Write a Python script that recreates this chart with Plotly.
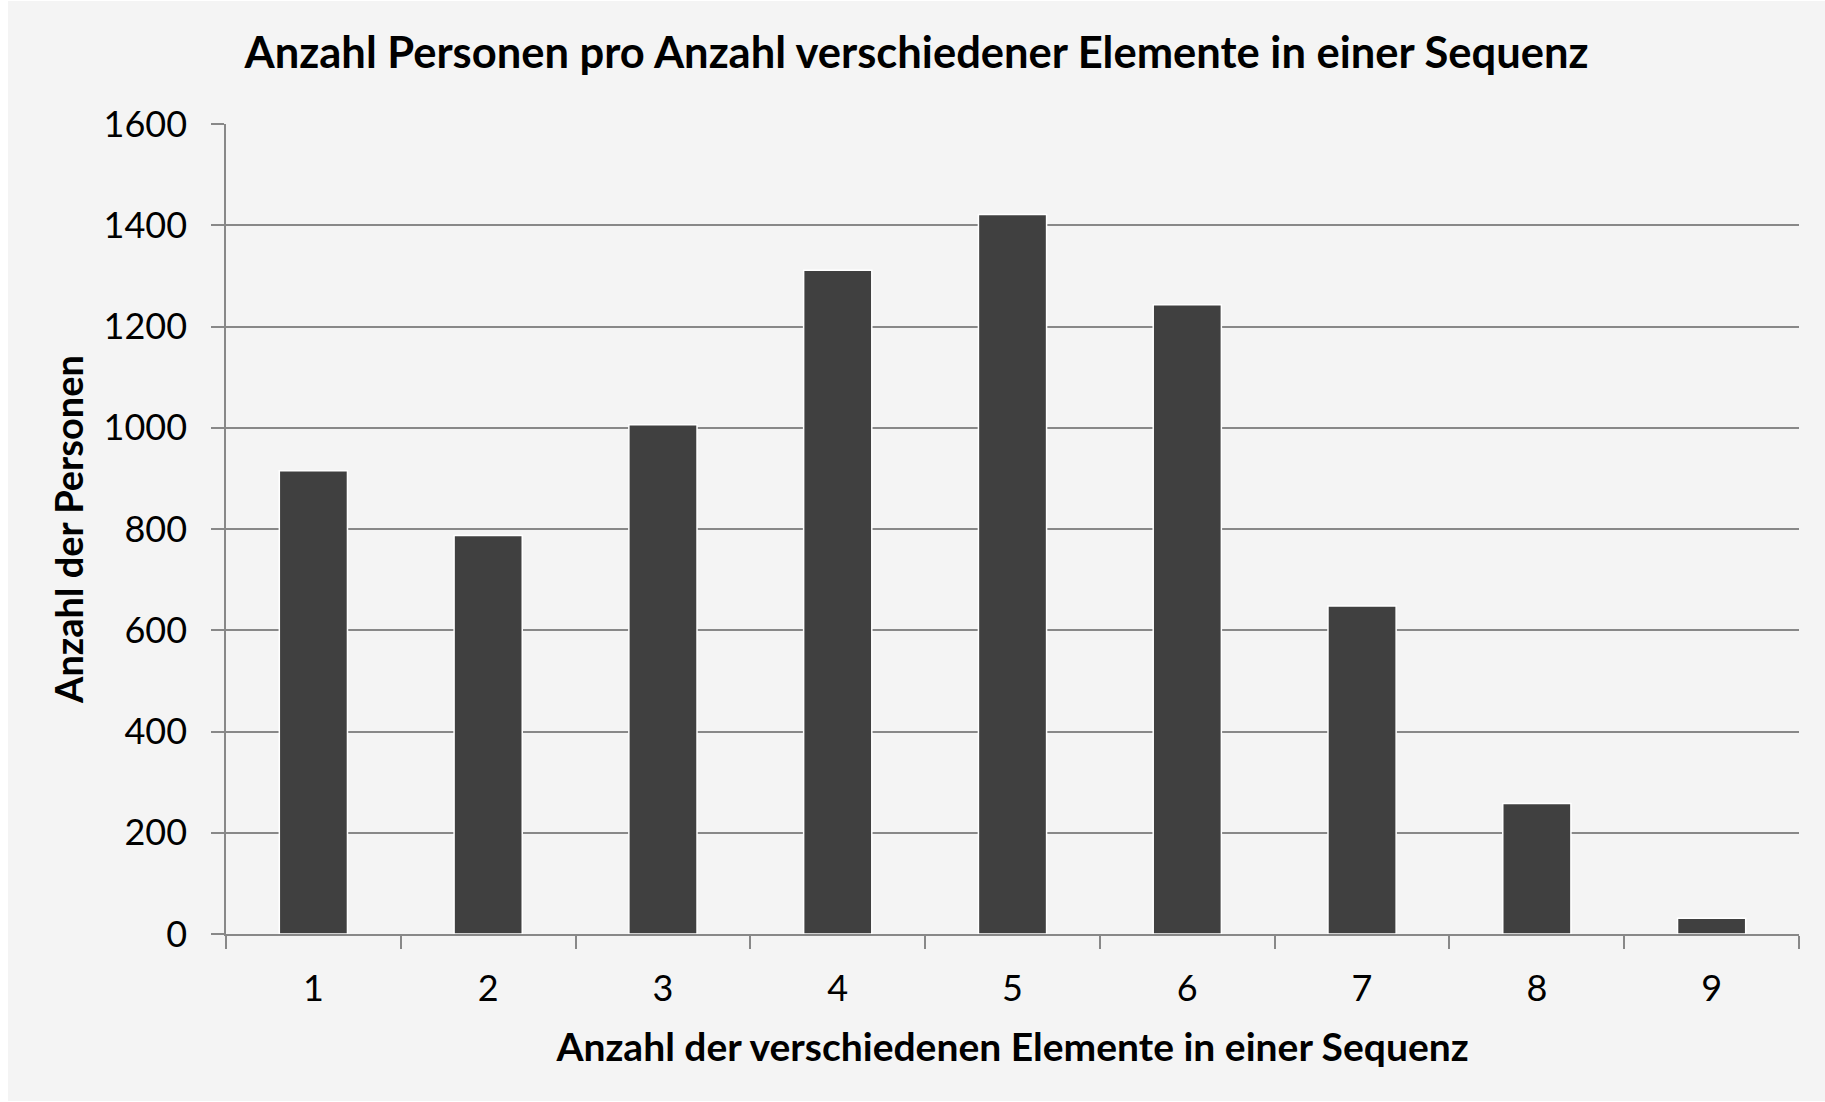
import plotly.graph_objects as go

# Anzahl verschiedener Elemente pro Sequenz und Anzahl Personen
categories = ["1", "2", "3", "4", "5", "6", "7", "8", "9"]
personen = [915, 787, 1006, 1311, 1421, 1243, 648, 258, 31]
y_ticks = [0, 200, 400, 600, 800, 1000, 1200, 1400, 1600]

grid_color = "#888888"
bg_color = "#f4f4f4"
font_family = "Lato, 'Open Sans', sans-serif"

fig = go.Figure()
fig.add_bar(
    x=categories,
    y=personen,
    marker_color="#404040",
    marker_line_color="white",
    marker_line_width=1.5,
)

fig.update_layout(
    width=1817,
    height=1100,
    margin=dict(l=218, r=26, t=123, b=167),
    paper_bgcolor=bg_color,
    plot_bgcolor=bg_color,
    bargap=0.61,
    showlegend=False,
    font=dict(family=font_family, color="#000000", size=36),
    title=dict(
        text="<b>Anzahl Personen pro Anzahl verschiedener Elemente in einer Sequenz</b>",
        x=0.5,
        xref="container",
        y=1 - 52 / 1100,
        yref="container",
        yanchor="middle",
        font=dict(size=43.5),
    ),
)

fig.update_xaxes(
    type="category",
    tickson="boundaries",
    ticks="outside",
    ticklen=13,
    tickwidth=1.5,
    tickcolor=grid_color,
    ticklabelstandoff=22,
    showline=True,
    linecolor=grid_color,
    linewidth=1.5,
    showgrid=False,
    tickfont=dict(size=36),
    title=dict(
        text="<b>Anzahl der verschiedenen Elemente in einer Sequenz</b>",
        font=dict(size=39),
        standoff=26,
    ),
)

fig.update_yaxes(
    range=[0, 1600],
    tickvals=y_ticks,
    ticks="outside",
    ticklen=13,
    tickwidth=1.5,
    tickcolor=grid_color,
    ticklabelstandoff=17,
    showline=True,
    linecolor=grid_color,
    linewidth=1.5,
    showgrid=True,
    gridcolor=grid_color,
    gridwidth=1.5,
    zeroline=False,
    tickfont=dict(size=36),
    title=dict(
        text="<b>Anzahl der Personen</b>",
        font=dict(size=38),
        standoff=8,
    ),
)

fig.write_html(
    "out.html",
    post_script="document.body.style.margin = '1px 0 0 8px';",
)
